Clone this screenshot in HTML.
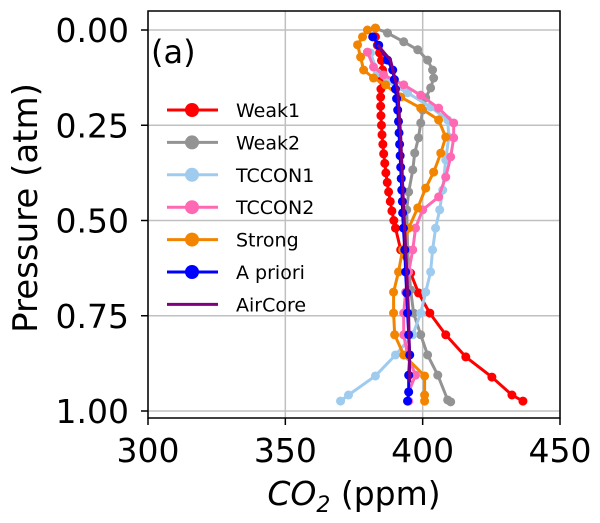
<!DOCTYPE html>
<html><head><meta charset="utf-8"><style>
body{margin:0;background:#fff}
svg{display:block;font-family:"DejaVu Sans","Liberation Sans",sans-serif}
</style></head><body>
<svg id="chart" width="600" height="523" viewBox="0 0 600 523" xmlns="http://www.w3.org/2000/svg">
<g id="grid"></g>
<g id="series"></g>
<rect x="148" y="11" width="412" height="407" fill="none" stroke="#000" stroke-width="1.5"/>
<g id="ticks"></g>
<text x="151" y="63" font-size="32">(a)</text>
<text x="354" y="505" font-size="33" text-anchor="middle"><tspan font-style="italic">CO</tspan><tspan font-style="italic" font-size="22" dy="7">2</tspan><tspan dy="-7"> (ppm)</tspan></text>
<text transform="translate(37,208) rotate(-90)" font-size="34" text-anchor="middle">Pressure (atm)</text>
<g id="legend"></g>
</svg>
<script>
const xTicks=[300,350,400,450];
const yTicks=[0,0.25,0.5,0.75,1.0];
const yTickLabels=["0.00","0.25","0.50","0.75","1.00"];
const names=["Weak1","Weak2","TCCON1","TCCON2","Strong","A priori","AirCore"];
const colors=["#ff0000","#939393","#9fcbee","#ff69b4","#f38400","#0000ff","#800080"];
const weak1P=[0.018,0.04,0.06,0.08,0.105,0.13,0.155,0.176,0.2,0.225,0.25,0.275,0.3,0.325,0.35,0.375,0.4,0.425,0.45,0.475,0.5,0.52,0.577,0.638,0.69,0.743,0.80,0.858,0.911,0.958,0.974];
const weak1V=[382.8,383.5,384.3,385,385.4,385,384.8,384.7,384.7,384.8,385,385.2,385.5,385.8,386.2,386.6,387.1,387.6,388.2,388.8,389.5,390.1,392,395.6,398.5,402.6,408.4,415.7,425.2,432.5,436.5];
const weak2P=[-0.005,0.008,0.031,0.052,0.079,0.105,0.126,0.152,0.178,0.21,0.244,0.283,0.323,0.367,0.425,0.472,0.577,0.682,0.743,0.80,0.853,0.906,0.971,0.976];
const weak2V=[382.8,387.2,393.1,398.2,401.8,403.6,404,402.9,401.1,400,399.3,398.5,397.1,396.4,394.9,394.2,394.5,395.6,396.7,399.3,401.8,405.5,409.1,410.2];
const tccon1P=[0.06,0.113,0.136,0.165,0.202,0.236,0.281,0.341,0.42,0.472,0.52,0.577,0.635,0.688,0.743,0.80,0.853,0.908,0.958,0.974];
const tccon1V=[381,383.6,387.2,394.5,402.9,409.1,409.5,408.4,407.3,406.2,404.7,403.6,402.9,401.1,399.3,396.4,390.1,382.8,373,370.1];
const tccon2P=[0.058,0.097,0.118,0.144,0.171,0.205,0.244,0.283,0.333,0.386,0.438,0.472,0.52,0.577,0.635,0.688,0.743,0.80,0.853,0.906,0.95,0.974];
const tccon2V=[379.9,382.1,385.8,393.1,399.3,405.8,411.3,411.3,410.2,408.4,405.8,400,397.4,396.4,394.9,393.8,393.1,393.1,394.5,397.4,394.9,394.9];
const strongP=[-0.005,0,0.018,0.039,0.071,0.105,0.126,0.144,0.176,0.205,0.236,0.281,0.323,0.373,0.415,0.467,0.52,0.577,0.635,0.688,0.743,0.80,0.853,0.908,0.958,0.974];
const strongV=[382.8,379.9,378.1,376.3,377.4,378.5,382.1,386.5,392,399.3,405.8,408.4,406.6,404,401.1,398.2,394.9,392.7,391.2,389.4,389.4,389.8,393.1,400.7,400.7,400.7];
const aprioriP=[0.018,0.04,0.079,0.105,0.13,0.155,0.18,0.21,0.24,0.27,0.3,0.33,0.36,0.39,0.42,0.45,0.48,0.52,0.577,0.635,0.69,0.743,0.80,0.853,0.906,0.95,0.974];
const aprioriV=[381.8,384,387.2,389.1,389.7,390.1,390.5,390.9,391.2,391.4,391.6,391.8,392,392.2,392.4,392.6,392.7,393,393.5,393.8,394.2,394.5,394.9,395.3,394.9,394.9,394.5];
const aircoreP=[0.039,0.079,0.157,0.28,0.472,0.63,0.753,0.925];
const aircoreV=[383.6,388.3,390.9,392,393.1,394.2,394.9,395.3];
const allP=[weak1P,weak2P,tccon1P,tccon2P,strongP,aprioriP,aircoreP];
const allV=[weak1V,weak2V,tccon1V,tccon2V,strongV,aprioriV,aircoreV];
const markers=[true,true,true,true,true,true,false];

const X0=148,X1=560,XMIN=300,XMAX=450;
const Y0=30,Y1=411;
function sx(v){return X0+(v-XMIN)*(X1-X0)/(XMAX-XMIN);}
function sy(p){return Y0+p*(Y1-Y0);}
const NS="http://www.w3.org/2000/svg";
function mk(tag,attrs,parent){const e=document.createElementNS(NS,tag);for(const k in attrs)e.setAttribute(k,attrs[k]);parent.appendChild(e);return e;}
const grid=document.getElementById('grid'),ticks=document.getElementById('ticks');
xTicks.forEach((t,i)=>{
  const g=mk('line',{x1:sx(t),x2:sx(t),y1:11,y2:418,stroke:'#c0c0c0','stroke-width':1.5},grid);
  
  
  const tk=mk('line',{x1:sx(t),x2:sx(t),y1:418,y2:425,stroke:'#000','stroke-width':1.5},ticks);
  
  
  const tx=mk('text',{x:sx(t),y:462,'font-size':33,'text-anchor':'middle'},ticks);
  tx.textContent=t;
  
  
});
yTicks.forEach((t,i)=>{
  const g=mk('line',{x1:148,x2:560,y1:sy(t),y2:sy(t),stroke:'#c0c0c0','stroke-width':1.5},grid);
  
  
  const tk=mk('line',{x1:141,x2:148,y1:sy(t),y2:sy(t),stroke:'#000','stroke-width':1.5},ticks);
  
  
  const tx=mk('text',{x:129,y:sy(t)+12,'font-size':33,'text-anchor':'end'},ticks);
  tx.textContent=yTickLabels[i];
  
  
});
const sg=document.getElementById('series');
allP.forEach((P,s)=>{
  const V=allV[s];
  const g=mk('g',{},sg);
  
  
  const pts=P.map((p,i)=>sx(V[i]).toFixed(1)+','+sy(p).toFixed(1)).join(' ');
  const pl=mk('polyline',{points:pts,fill:'none',stroke:colors[s],'stroke-width':3,'stroke-linejoin':'round'},g);
  
  
  if(markers[s]) P.forEach((p,i)=>{
    const c=mk('circle',{cx:sx(V[i]),cy:sy(p),r:4.5,fill:colors[s]},g);
    
    
  });
});
const lg=document.getElementById('legend');
names.forEach((n,i)=>{
  const y=110+i*32.4;
  const e=mk('g',{},lg);
  
  
  mk('line',{x1:167,x2:218,y1:y,y2:y,stroke:colors[i],'stroke-width':3},e);
  if(markers[i]) mk('circle',{cx:192,cy:y,r:7,fill:colors[i]},e);
  const t=mk('text',{x:236,y:y+7,'font-size':19},e);
  t.textContent=n;
});
</script>
</body></html>
